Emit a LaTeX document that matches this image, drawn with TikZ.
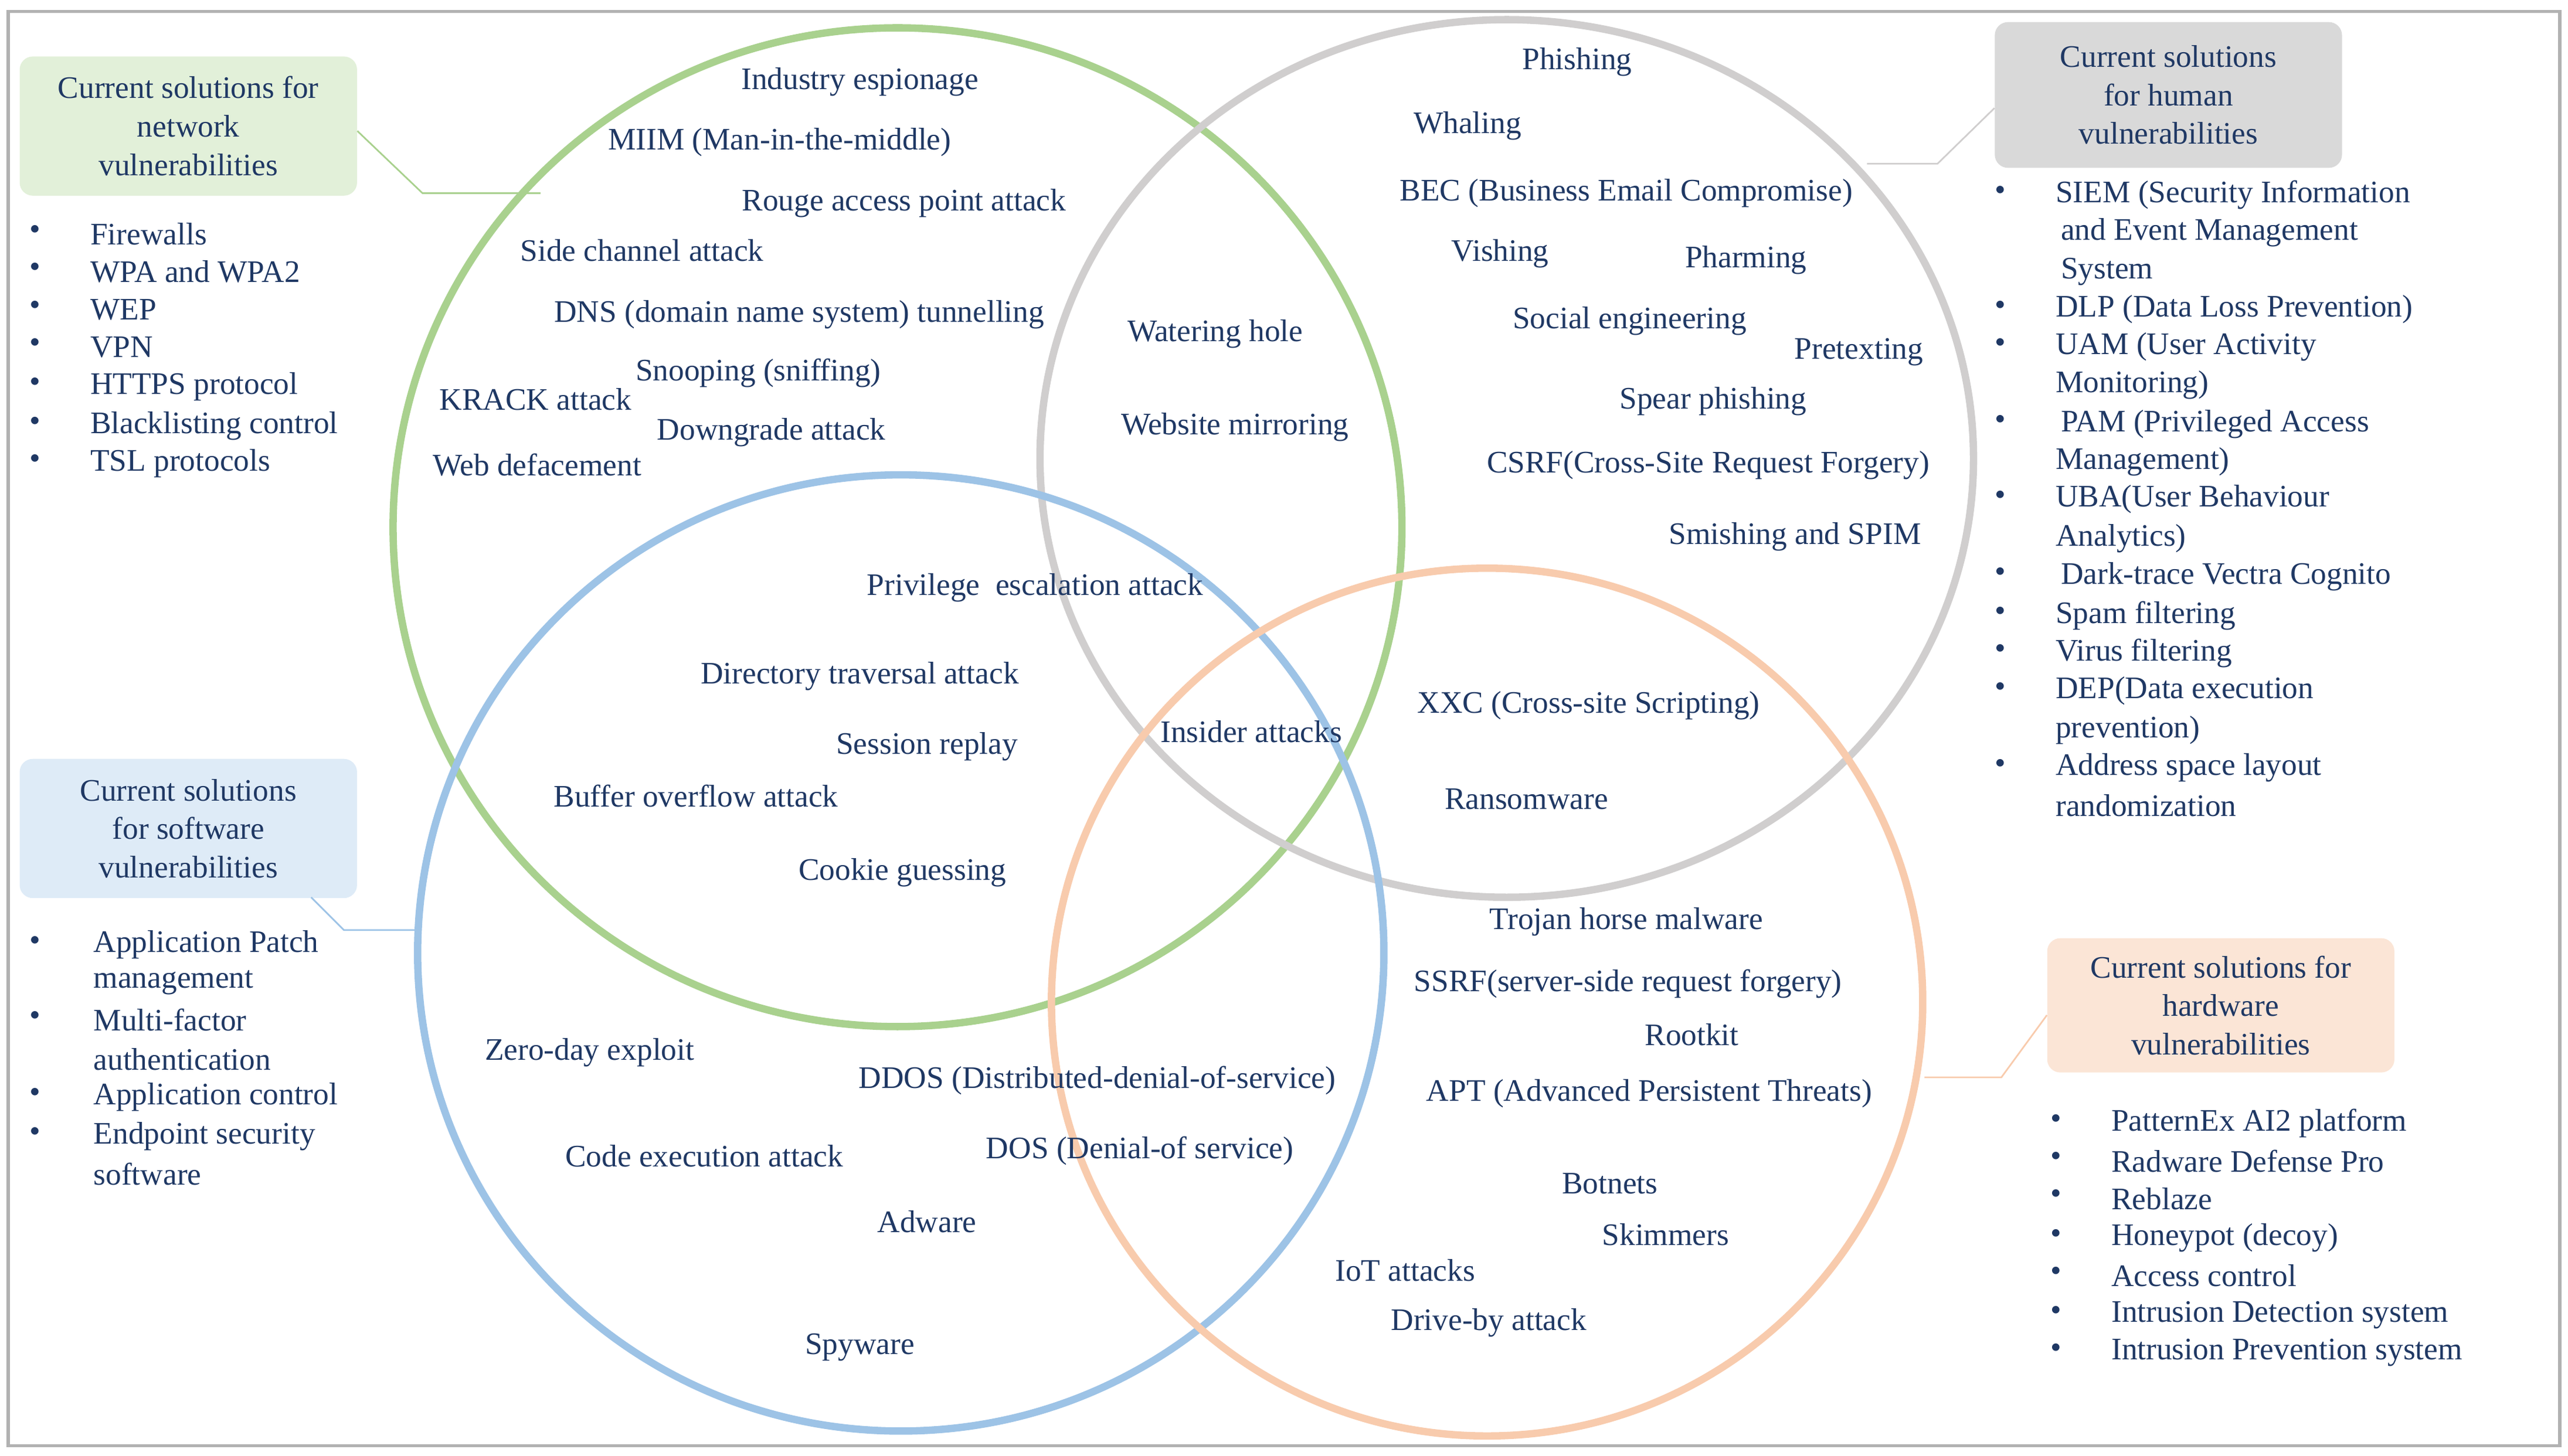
\documentclass[tikz,border=0pt]{standalone}
\usepackage{fontspec}
\setmainfont{Liberation Serif}
\definecolor{txt}{HTML}{1F3864}
\definecolor{cgreen}{HTML}{A9D18E}
\definecolor{cgray}{HTML}{D0CECE}
\definecolor{cblue}{HTML}{9DC3E6}
\definecolor{corange}{HTML}{F8CBAD}
\definecolor{fgreen}{HTML}{E2F0D9}
\definecolor{fgray}{HTML}{D9D9D9}
\definecolor{fblue}{HTML}{DEEBF7}
\definecolor{forange}{HTML}{FBE5D6}
\begin{document}
\begin{tikzpicture}[x=1pt,y=-1pt,
  every node/.style={font=\fontsize{19.1}{23.5}\selectfont, text=txt, inner sep=0pt},
  ring/.style={line width=4.5pt},
  box/.style={rounded corners=8pt, minimum width=206pt, align=center},
  li/.style={anchor=west, align=left},
  bl/.style={anchor=west},
  lead/.style={line width=1pt}]
\useasboundingbox (0,0) rectangle (1568,889);
\draw[gray!60, line width=2pt] (5,7) rectangle (1563,883);
% circles
\draw[ring, cgreen] (548,322) ellipse [x radius=308, y radius=305];
\draw[ring, cgray] (920,280) ellipse [x radius=285, y radius=268];
\draw[ring, cblue] (550,582) ellipse [x radius=295, y radius=292];
\draw[ring, corange] (908,612) ellipse [x radius=266, y radius=265];
% boxes
\node[box, fill=fgreen, minimum height=85pt] (bg) at (115,77) {Current solutions for\\network\\vulnerabilities};
\node[box, fill=fgray, minimum width=212pt, minimum height=89pt] (bh) at (1324,58) {Current solutions\\for human\\vulnerabilities};
\node[box, fill=fblue, minimum height=85pt] (bs) at (115,506) {Current solutions\\for software\\vulnerabilities};
\node[box, fill=forange, minimum width=212pt, minimum height=82pt] (bo) at (1356,614) {Current solutions for\\hardware\\vulnerabilities};
\coordinate (g1) at (258,118); \coordinate (g2) at (330,118);
\draw[lead, cgreen] (bg.east) ++(0,3) -- (g1) -- (g2);
\coordinate (h1) at (1183,100); \coordinate (h2) at (1140,100);
\draw[lead, cgray] (bh.west) ++(0,8) -- (h1) -- (h2);
\coordinate (s1) at (210,568); \coordinate (s2) at (255,568);
\draw[lead, cblue] (190,548) -- (s1) -- (s2);
\coordinate (o1) at (1222,658); \coordinate (o2) at (1175,658);
\draw[lead, corange] (bo.west) ++(0,6) -- (o1) -- (o2);
% lists
\foreach \y/\t [count=\i] in {143/Firewalls,166/WPA and WPA2,189/WEP,212/VPN,236/HTTPS protocol,260/Blacklisting control,283/TSL protocols}{
  \node[bl] (gb\i) at (18,\y-1) {•}; \node[li] (gt\i) at (55,\y) {\t};}
\foreach \y/\t [count=\i] in {119/SIEM (Security Information,189/DLP (Data Loss Prevention),212/UAM (User Activity,259/{\,}PAM (Privileged Access,305/UBA(User Behaviour,352/{\,}Dark-trace Vectra Cognito,376/Spam filtering,399/Virus filtering,422/DEP(Data execution,469/Address space layout}{
  \node[bl] (hb\i) at (1218,\y-1) {•}; \node[li] (ht\i) at (1255,\y) {\t};}
\foreach \y/\t [count=\i] in {142/{\,}and Event Management,166/{\,}System,235/Monitoring),282/Management),329/Analytics),446/prevention),492/randomization}{
  \node[li] (hc\i) at (1255,\y) {\t};}
\foreach \y/\t [count=\i] in {577/Application Patch,623/Multi-factor,670/Application control,694/Endpoint security}{
  \node[bl] (sb\i) at (18,\y-1) {•}; \node[li] (st\i) at (57,\y) {\t};}
\foreach \y/\t [count=\i] in {600/management,647/authentication,717/software}{
  \node[li] (sc\i) at (57,\y) {\t};}
\foreach \y/\t [count=\i] in {686/PatternEx AI2 platform,709/Radware Defense Pro,732/Reblaze,756/Honeypot (decoy),779/Access control,803/Intrusion Detection system,826/Intrusion Prevention system}{
  \node[bl] (ob\i) at (1252,\y-1) {•}; \node[li] (ot\i) at (1289,\y) {\t};}
% threats
\foreach \x/\y/\t [count=\i] in {
525/50/Industry espionage, 476/87/MIIM (Man-in-the-middle), 552/124/Rouge access point attack,
392/153/Side channel attack, 488/192/DNS (domain name system) tunnelling, 463/228/Snooping (sniffing),
327/244/KRACK attack, 471/264/Downgrade attack, 328/284/Web defacement, 742/204/Watering hole,
754/261/Website mirroring, 963/38/Phishing, 896/77/Whaling, 993/118/BEC (Business Email Compromise),
916/155/Vishing, 1066/159/Pharming, 995/196/Social engineering, 1135/215/Pretexting,
1046/245/Spear phishing, 1043/284/CSRF(Cross-Site Request Forgery), 1096/328/Smishing and SPIM,
632/359/Privilege\ \ escalation attack, 525/413/Directory traversal attack, 566/456/Session replay,
764/447/Insider attacks, 970/431/XXC (Cross-site Scripting), 425/486/Buffer overflow attack,
932/488/Ransomware, 551/533/Cookie guessing, 993/563/Trojan horse malware,
994/601/SSRF(server-side request forgery), 1033/632/Rootkit, 360/643/Zero-day exploit,
670/660/DDOS (Distributed-denial-of-service), 1007/668/APT (Advanced Persistent Threats),
430/706/Code execution attack, 696/703/DOS (Denial-of service), 983/723/Botnets,
1017/754/Skimmers, 566/746/Adware, 858/776/IoT attacks, 909/808/Drive-by attack, 525/823/Spyware}{
  \node (t\i) at (\x,\y) {\t};}
\end{tikzpicture}
\end{document}
